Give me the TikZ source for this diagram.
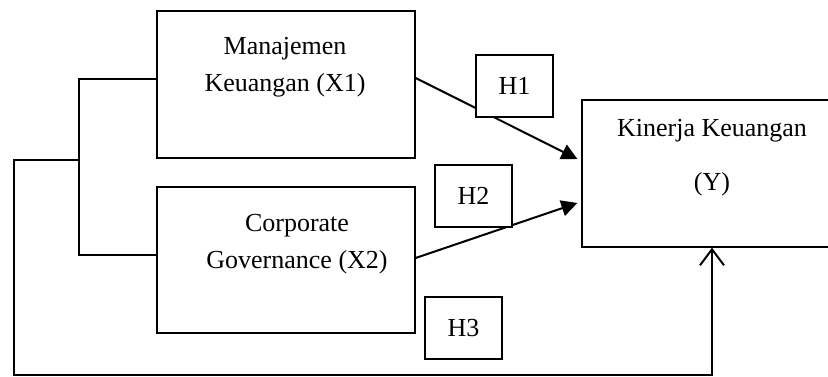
\documentclass[tikz,border=0pt]{standalone}
\usepackage{fontspec}
\setmainfont{Liberation Serif}
\usetikzlibrary{arrows.meta}
\begin{document}
\begin{tikzpicture}[x=1pt,y=-1pt,
  box/.style={draw, line width=1.2pt, inner sep=0pt},
  hbox/.style={draw, line width=2.4pt, fill=white, inner sep=0pt, minimum width=77pt, minimum height=62pt, font=\fontsize{26}{30}\selectfont},
  txt/.style={align=center, inner sep=0pt, font=\fontsize{26}{37}\selectfont},
  conn/.style={line width=2pt},
  harrow/.style={conn, -{Triangle[length=16pt,width=16pt]}},
  oarrow/.style={conn, -{Straight Barb[length=16pt,width=24pt,line width=2pt]}}]
\useasboundingbox (0,0) rectangle (828,377);
% boxes
\node[box, minimum width=258pt, minimum height=147pt] (x1) at (286,84.5) {};
\node[box, minimum width=258pt, minimum height=146pt] (x2) at (286,260) {};
\node[box, minimum width=260pt, minimum height=147pt] (y) at (712,173.5) {};
% texts
\node[txt] (t1) at (285,67) {Manajemen\\Keuangan (X1)};
\node[txt] (t2) at (297,244) {Corporate\\Governance (X2)};
\node[txt, font=\fontsize{26}{54}\selectfont] (ty) at (712,158) {Kinerja Keuangan\\(Y)};
% bracket
\coordinate (b) at (79,160);
\coordinate (c) at (14,375);
\draw[conn] ([yshift=5.5pt]x1.west) -| (b) |- ([yshift=5pt]x2.west);
\draw[oarrow] (b) -| (c) -| (y.south);
% H arrows
\draw[harrow] ([yshift=6.5pt]x1.east) -- ([xshift=-4pt,yshift=14.5pt]y.west);
\draw[harrow] ([yshift=2pt]x2.east) -- ([xshift=-4pt,yshift=-29.5pt]y.west);
% H boxes
\node[hbox] (h1) at (514.5,86) {H1};
\node[hbox] (h2) at (473.5,196) {H2};
\node[hbox] (h3) at (463.5,328) {H3};
\end{tikzpicture}
\end{document}
